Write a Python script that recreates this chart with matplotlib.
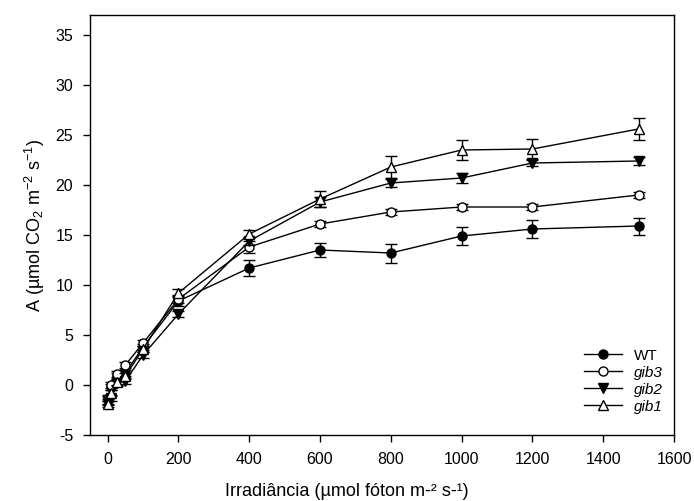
import matplotlib
matplotlib.use("Agg")
from matplotlib import pyplot as plt

plt.rcParams['font.family'] = ['Liberation Sans', 'DejaVu Sans']
plt.rcParams['mathtext.fontset'] = 'custom'
plt.rcParams['mathtext.rm'] = 'Liberation Sans'
plt.rcParams['mathtext.it'] = 'Liberation Sans:italic'
plt.rcParams['axes.unicode_minus'] = False

irradiance = [0, 10, 25, 50, 100, 200, 400, 600, 800, 1000, 1200, 1500]

wt = [-1.5, -0.2, 0.9, 1.2, 3.8, 8.4, 11.7, 13.5, 13.2, 14.9, 15.6, 15.9]
wt_err = [0.4, 0.3, 0.3, 0.3, 0.3, 0.5, 0.8, 0.7, 0.95, 0.9, 0.9, 0.85]

gib3 = [-1.3, 0.0, 1.1, 2.0, 4.2, 8.6, 13.8, 16.1, 17.3, 17.8, 17.8, 19.0]
gib3_err = [0.3, 0.3, 0.3, 0.3, 0.3, 0.4, 0.6, 0.3, 0.3, 0.3, 0.3, 0.3]

gib2 = [-1.7, -1.3, 0.2, 0.4, 3.0, 7.1, 14.4, 18.3, 20.2, 20.7, 22.2, 22.4]
gib2_err = [0.3, 0.3, 0.3, 0.3, 0.3, 0.3, 0.4, 0.5, 0.4, 0.5, 0.3, 0.4]

gib1 = [-1.9, -0.8, 0.3, 0.9, 3.6, 9.2, 15.1, 18.6, 21.8, 23.5, 23.6, 25.6]
gib1_err = [0.3, 0.3, 0.3, 0.3, 0.3, 0.4, 0.4, 0.8, 1.1, 1.0, 1.0, 1.1]

fig = plt.figure(figsize=(6.94, 5.01), dpi=100)
ax = fig.add_axes([90/694, 1 - 435/501, (674 - 90)/694, (435 - 15)/501])

series = [
	(wt, wt_err, 'o', 'black', 'WT'),
	(gib3, gib3_err, 'o', 'white', 'gib3'),
	(gib2, gib2_err, 'v', 'black', 'gib2'),
	(gib1, gib1_err, '^', 'white', 'gib1'),
]

handles = []
for values, errors, marker, face, label in series:
	ax.errorbar(irradiance, values, yerr=errors, fmt='none',
				ecolor='black', elinewidth=1, capsize=4.5, capthick=1)
	line, = ax.plot(irradiance, values, color='black', linewidth=1,
					marker=marker, markersize=6.5, markerfacecolor=face,
					markeredgecolor='black', markeredgewidth=1, label=label)
	handles.append(line)

ax.set_xlim(-50, 1600)
ax.set_ylim(-5, 37)
ax.set_xticks(range(0, 1601, 200))
ax.set_yticks(range(-5, 36, 5))
ax.tick_params(direction='out', length=5, width=1, labelsize=11.5, pad=7)
for spine in ax.spines.values():
	spine.set_linewidth(1)

ax.set_xlabel('Irradiância (µmol fóton m-² s-¹)', fontsize=13)
ax.xaxis.set_label_coords((347 - 90) / 584, -0.115)
ax.set_ylabel('A (µmol CO$_2$ m$^{-2}$ s$^{-1}$)', fontsize=13, labelpad=6)

leg = ax.legend(handles=handles, loc='lower right', bbox_to_anchor=(1.0, 0.025),
				frameon=False, fontsize=11, handlelength=2.5, labelspacing=0.2,
				borderpad=0.2, handletextpad=0.8)
for text in leg.get_texts()[1:]:
	text.set_fontstyle('italic')

plt.savefig('out.png', dpi=100)
